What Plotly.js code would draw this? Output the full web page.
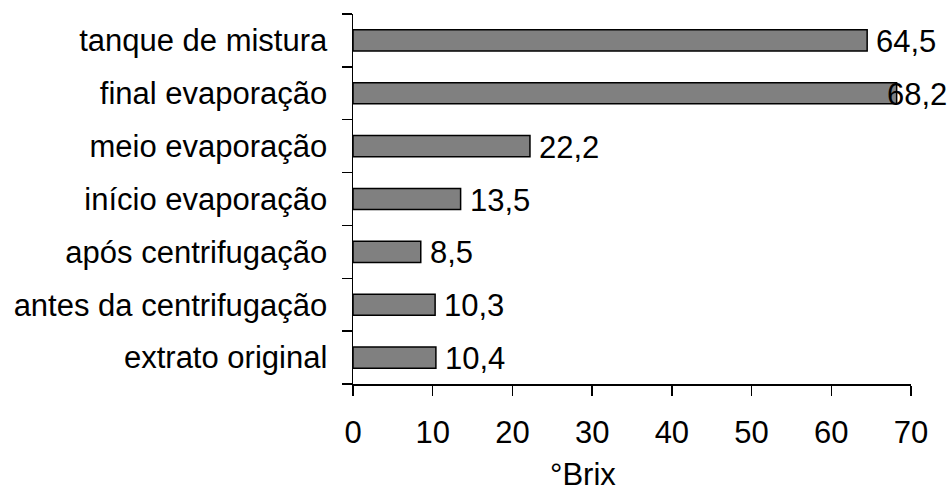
<!DOCTYPE html>
<html>
<head>
<meta charset="utf-8">
<script src="https://cdn.plot.ly/plotly-3.0.1.min.js"></script>
<style>
  html, body { margin: 0; padding: 0; background: #fff; }
  #chart { width: 951px; height: 492px; }
</style>
</head>
<body>
<div id="chart"></div>
<script>
// stages, bottom to top as drawn
var stages = [
  "extrato original",
  "antes da centrifugação",
  "após centrifugação",
  "início evaporação",
  "meio evaporação",
  "final evaporação",
  "tanque de mistura"
];
var brix = [10.4, 10.3, 8.5, 13.5, 22.2, 68.2, 64.5];
var brixLabels = ["10,4", "10,3", "8,5", "13,5", "22,2", "68,2", "64,5"];
var xTicks = [0, 10, 20, 30, 40, 50, 60, 70];

var fnt = {family: "Arial, 'Liberation Sans', sans-serif", size: 31, color: "#000"};

var trace = {
  type: "bar",
  orientation: "h",
  y: stages,
  x: brix,
  marker: {color: "#808080", line: {color: "#000", width: 1.5}},
  hoverinfo: "none"
};

// value labels, Excel keeps the last one inside the chart area
var annots = stages.map(function(s, i) {
  var over = brix[i] > 66;
  return {
    x: brix[i], y: s, xref: "x", yref: "y",
    text: brixLabels[i], showarrow: false,
    xanchor: "left", yanchor: "middle",
    xshift: over ? -12 : 7, yshift: -1,
    font: fnt
  };
});
annots.push({
  text: "°Brix", xref: "paper", yref: "paper",
  x: 0.412, y: -0.245, xanchor: "center", yanchor: "middle",
  showarrow: false, font: fnt
});

var layout = {
  width: 951,
  height: 492,
  margin: {l: 353, r: 40, t: 14, b: 108},
  paper_bgcolor: "#fff",
  plot_bgcolor: "#fff",
  showlegend: false,
  bargap: 0.6,
  font: fnt,
  xaxis: {
    range: [0, 70],
    tickvals: xTicks,
    ticktext: xTicks.map(String),
    showgrid: false,
    zeroline: false,
    showline: true,
    linecolor: "#000",
    linewidth: 1.5,
    ticks: "outside",
    ticklen: 10,
    tickwidth: 1.5,
    tickcolor: "#000",
    ticklabelstandoff: 10,
    tickfont: fnt,
    fixedrange: true
  },
  yaxis: {
    type: "category",
    categoryorder: "array",
    categoryarray: stages,
    tickson: "boundaries",
    showgrid: false,
    zeroline: false,
    showline: true,
    linecolor: "#000",
    linewidth: 1.5,
    ticks: "outside",
    ticklen: 10,
    tickwidth: 1.5,
    tickcolor: "#000",
    ticklabelstandoff: 18,
    tickfont: fnt,
    fixedrange: true
  },
  annotations: annots
};

Plotly.newPlot("chart", [trace], layout, {displayModeBar: false, staticPlot: true});
</script>
</body>
</html>
